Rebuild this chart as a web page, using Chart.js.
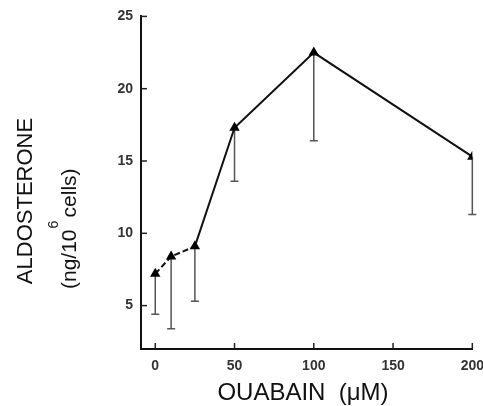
<!doctype html>
<html lang="en">
<head>
    <meta charset="utf-8">
    <title>Aldosterone vs ouabain</title>
    <script src="https://cdn.jsdelivr.net/npm/chart.js"></script>
    <style>
        body { margin: 0; overflow: hidden; background: #fff; }
        #wrap { width: 493px; height: 406px; }
    </style>
</head>
<body>
    <div id="wrap"><canvas id="chartEl"></canvas></div>
    <script>
        // ouabain dose (uM), mean aldosterone and lower end of error bar
        const doses = [0, 10, 25, 50, 100, 200];
        const means = [7.2, 8.4, 9.1, 17.3, 22.5, 15.3];
        const lowers = [4.4, 3.4, 5.3, 13.6, 16.4, 11.3];
        const xTicks = [0, 50, 100, 150, 200];
        const yTicks = [5, 10, 15, 20, 25];

        const points = doses.map((d, i) => ({ x: d, y: means[i] }));

        // error bars (down only) + inward tick marks + axis titles
        const extras = {
            id: 'extras',
            beforeDatasetsDraw(chart) {
                const { ctx, scales: { x, y } } = chart;
                ctx.save();
                ctx.strokeStyle = '#555';
                ctx.lineWidth = 1.5;
                doses.forEach((d, i) => {
                    const px = x.getPixelForValue(d);
                    const top = y.getPixelForValue(means[i]);
                    const bot = y.getPixelForValue(lowers[i]);
                    ctx.beginPath();
                    ctx.moveTo(px, top);
                    ctx.lineTo(px, bot);
                    ctx.moveTo(px - 4, bot);
                    ctx.lineTo(px + 4, bot);
                    ctx.stroke();
                });
                ctx.restore();
            },
            afterDraw(chart) {
                const { ctx, chartArea, scales: { x, y } } = chart;
                ctx.save();
                ctx.strokeStyle = '#222';
                ctx.lineWidth = 1.5;
                yTicks.forEach((v) => {
                    const py = y.getPixelForValue(v);
                    ctx.beginPath();
                    ctx.moveTo(chartArea.left, py);
                    ctx.lineTo(chartArea.left + 6, py);
                    ctx.stroke();
                });
                xTicks.forEach((v) => {
                    const px = x.getPixelForValue(v);
                    ctx.beginPath();
                    ctx.moveTo(px, chartArea.bottom);
                    ctx.lineTo(px, chartArea.bottom - 6);
                    ctx.stroke();
                });

                ctx.fillStyle = '#111';
                ctx.textAlign = 'center';
                ctx.textBaseline = 'middle';
                ctx.font = '24px "Liberation Sans", Arial, sans-serif';
                ctx.fillText('OUABAIN  (\u03bcM)', 303, 393);

                // rotated y title, two lines
                ctx.translate(26, 201);
                ctx.rotate(-Math.PI / 2);
                ctx.font = '22px "Liberation Sans", Arial, sans-serif';
                ctx.fillText('ALDOSTERONE', 0, 0);
                ctx.textAlign = 'left';
                ctx.font = '21px "Liberation Sans", Arial, sans-serif';
                const a = '(ng/10';
                const b = 'cells)';
                const start = -88;
                ctx.fillText(a, start, 44);
                const wa = ctx.measureText(a).width;
                ctx.font = '14px "Liberation Sans", Arial, sans-serif';
                ctx.fillText('6', start + wa + 1, 28);
                ctx.font = '21px "Liberation Sans", Arial, sans-serif';
                ctx.fillText(b, start + wa + 12, 44);
                ctx.restore();
            }
        };

        const tickFont = { size: 14, weight: 'bold', family: '"Liberation Sans", Arial, sans-serif' };

        const config = {
            type: 'line',
            data: {
                datasets: [{
                    data: points,
                    borderColor: '#111',
                    borderWidth: 2,
                    backgroundColor: '#000',
                    pointStyle: 'triangle',
                    pointRadius: 6,
                    pointBorderWidth: 0,
                    pointBackgroundColor: '#000',
                    tension: 0,
                    segment: {
                        borderDash: (c) => (c.p1.parsed.x <= 25 ? [6, 3] : undefined)
                    }
                }]
            },
            options: {
                responsive: true,
                maintainAspectRatio: false,
                animation: false,
                layout: { padding: { top: 15, right: 17, left: 0, bottom: 0 } },
                plugins: {
                    legend: { display: false },
                    tooltip: { enabled: false }
                },
                scales: {
                    x: {
                        type: 'linear',
                        min: -9,
                        max: 200,
                        afterBuildTicks: (s) => { s.ticks = xTicks.map((v) => ({ value: v })); },
                        afterFit: (s) => { s.height = 57; },
                        grid: { display: false, drawTicks: false },
                        border: { color: '#111', width: 2 },
                        ticks: { padding: 9, color: '#333', font: tickFont }
                    },
                    y: {
                        type: 'linear',
                        min: 2,
                        max: 25,
                        afterBuildTicks: (s) => { s.ticks = yTicks.map((v) => ({ value: v })); },
                        afterFit: (s) => { s.width = 141; },
                        grid: { display: false, drawTicks: false },
                        border: { color: '#111', width: 2 },
                        ticks: { padding: 8, color: '#333', font: tickFont }
                    }
                }
            },
            plugins: [extras]
        };

        new Chart(document.getElementById('chartEl'), config);
    </script>
</body>
</html>
